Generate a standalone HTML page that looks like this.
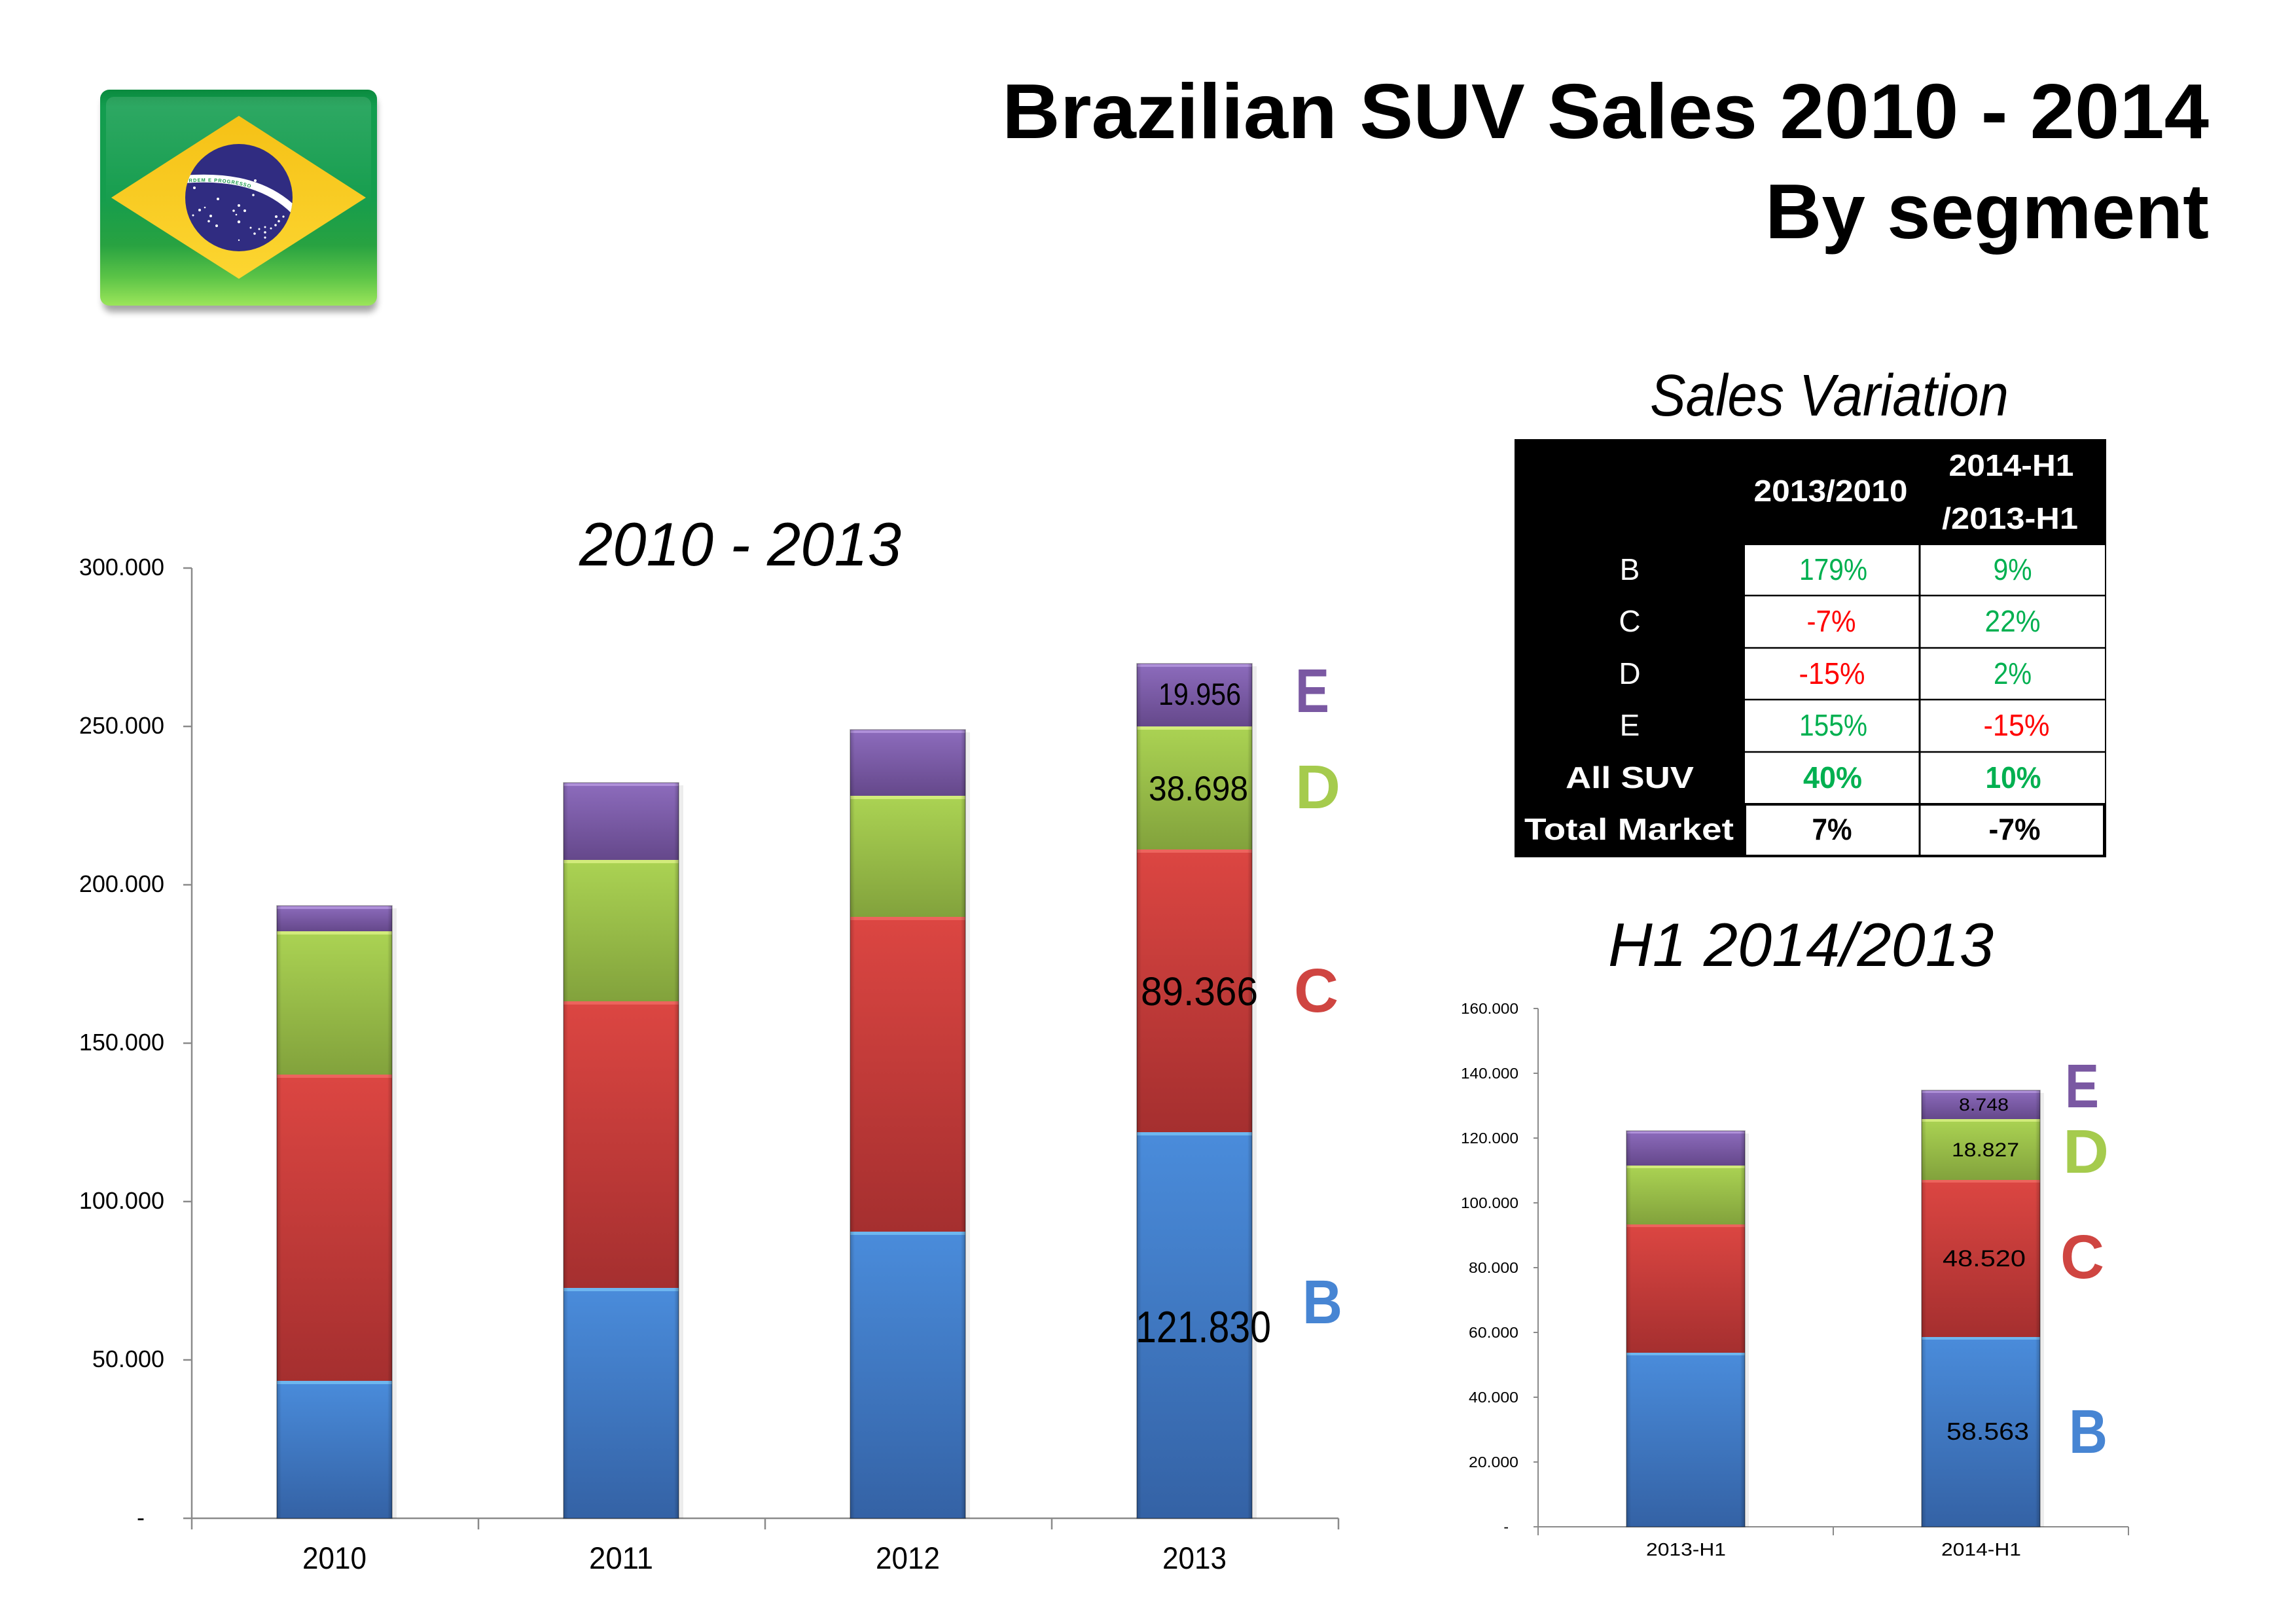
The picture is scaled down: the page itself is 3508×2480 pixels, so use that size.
<!DOCTYPE html>
<html>
<head>
<meta charset="utf-8">
<style>
html,body{margin:0;padding:0;background:#fff;}
svg{display:block;}
text{font-family:"Liberation Sans",Arial,sans-serif;}
</style>
</head>
<body>
<svg width="3508" height="2480" viewBox="0 0 3508 2480" xmlns="http://www.w3.org/2000/svg">
<defs>
  <linearGradient id="gB" x1="0" y1="0" x2="0" y2="1"><stop offset="0" stop-color="#4a8cdb"/><stop offset="1" stop-color="#3462a5"/></linearGradient>
  <linearGradient id="gC" x1="0" y1="0" x2="0" y2="1"><stop offset="0" stop-color="#dc4642"/><stop offset="1" stop-color="#a52f2f"/></linearGradient>
  <linearGradient id="gD" x1="0" y1="0" x2="0" y2="1"><stop offset="0" stop-color="#abd353"/><stop offset="1" stop-color="#82a23c"/></linearGradient>
  <linearGradient id="gE" x1="0" y1="0" x2="0" y2="1"><stop offset="0" stop-color="#8d6cbd"/><stop offset="1" stop-color="#65488b"/></linearGradient>
  <linearGradient id="side" x1="0" y1="0" x2="1" y2="0"><stop offset="0" stop-color="#000" stop-opacity="0.18"/><stop offset="0.04" stop-color="#000" stop-opacity="0"/><stop offset="0.96" stop-color="#000" stop-opacity="0"/><stop offset="1" stop-color="#000" stop-opacity="0.22"/></linearGradient>
  <linearGradient id="flagG" x1="0" y1="0" x2="0" y2="1">
    <stop offset="0" stop-color="#0a8a3e"/><stop offset="0.08" stop-color="#139d4f"/><stop offset="0.5" stop-color="#159d4d"/><stop offset="0.72" stop-color="#28a241"/><stop offset="0.87" stop-color="#5cc447"/><stop offset="1" stop-color="#9be55a"/>
  </linearGradient>
  <linearGradient id="gloss" x1="0" y1="0" x2="0" y2="1"><stop offset="0" stop-color="#fff" stop-opacity="0.12"/><stop offset="1" stop-color="#fff" stop-opacity="0"/></linearGradient>
  <linearGradient id="yel" x1="0" y1="0" x2="0" y2="1"><stop offset="0" stop-color="#f5c116"/><stop offset="1" stop-color="#fcd631"/></linearGradient>
  <filter id="blur" x="-20%" y="-20%" width="140%" height="140%"><feGaussianBlur stdDeviation="5"/></filter>
  <clipPath id="circ"><circle cx="365" cy="302" r="82"/></clipPath>
  <path id="bandPath" d="M 282 279 C 332 275, 398 277, 446 325"/>
</defs>

<!-- ============ FLAG ============ -->
<rect x="157" y="147" width="419" height="330" rx="14" fill="#000" opacity="0.35" filter="url(#blur)"/>
<rect x="153" y="137" width="423" height="330" rx="14" fill="url(#flagG)"/>
<rect x="162" y="148" width="405" height="170" rx="12" fill="url(#gloss)"/>
<polygon points="170,302 365,177 559,302 365,426" fill="url(#yel)"/>
<circle cx="365" cy="302" r="82" fill="#302c81"/>
<g clip-path="url(#circ)">
  <path d="M 280 274 C 330 270, 400 272, 450 322" stroke="#fff" stroke-width="12" fill="none"/>
  <text font-size="7.5" fill="#1a9a4a" font-weight="bold" letter-spacing="1"><textPath href="#bandPath">ORDEM E PROGRESSO</textPath></text>
</g>
<g fill="#fff">
  <circle cx="297" cy="287" r="2"/><circle cx="333" cy="304" r="2"/><circle cx="305" cy="321" r="2"/><circle cx="313" cy="317" r="1.3"/><circle cx="295" cy="329" r="1.5"/><circle cx="322" cy="330" r="2"/><circle cx="319" cy="338" r="1.8"/><circle cx="331" cy="345" r="2"/><circle cx="365" cy="314" r="2"/><circle cx="357" cy="322" r="1.8"/><circle cx="374" cy="322" r="2"/><circle cx="361" cy="328" r="1.3"/><circle cx="365" cy="339" r="2.2"/><circle cx="387" cy="298" r="1.8"/><circle cx="390" cy="276" r="2"/><circle cx="422" cy="331" r="2"/><circle cx="433" cy="331" r="1.6"/><circle cx="426" cy="338" r="1.8"/><circle cx="421" cy="344" r="1.8"/><circle cx="414" cy="349" r="1.5"/><circle cx="405" cy="347" r="1.5"/><circle cx="396" cy="350" r="1.5"/><circle cx="383" cy="348" r="1.5"/><circle cx="389" cy="357" r="1.8"/><circle cx="405" cy="355" r="1.8"/><circle cx="405" cy="363" r="1.6"/><circle cx="365" cy="367" r="1.2"/>
</g>

<!-- ============ MAIN TITLE ============ -->
<text x="1531" y="211" font-size="119" font-weight="bold" fill="#000" textLength="1844" lengthAdjust="spacingAndGlyphs">Brazilian SUV Sales 2010 - 2014</text>
<text x="2697" y="364" font-size="119" font-weight="bold" fill="#000" textLength="678" lengthAdjust="spacingAndGlyphs">By segment</text>

<!-- ============ LEFT CHART ============ -->
<text x="885" y="864" font-size="94" font-style="italic" fill="#000" textLength="492" lengthAdjust="spacingAndGlyphs">2010 - 2013</text>

<g stroke="#8a8a8a" stroke-width="2.5" fill="none">
  <line x1="293" y1="868" x2="293" y2="2337"/>
  <line x1="280" y1="2320" x2="2045" y2="2320"/>
  <line x1="280" y1="868" x2="293" y2="868"/>
  <line x1="280" y1="1110" x2="293" y2="1110"/>
  <line x1="280" y1="1352" x2="293" y2="1352"/>
  <line x1="280" y1="1594" x2="293" y2="1594"/>
  <line x1="280" y1="1836" x2="293" y2="1836"/>
  <line x1="280" y1="2078" x2="293" y2="2078"/>
  <line x1="731" y1="2320" x2="731" y2="2337"/>
  <line x1="1169" y1="2320" x2="1169" y2="2337"/>
  <line x1="1607" y1="2320" x2="1607" y2="2337"/>
  <line x1="2045" y1="2320" x2="2045" y2="2337"/>
</g>
<g font-size="36" fill="#000" text-anchor="end">
  <text x="251" y="879">300.000</text>
  <text x="251" y="1121">250.000</text>
  <text x="251" y="1363">200.000</text>
  <text x="251" y="1605">150.000</text>
  <text x="251" y="1847">100.000</text>
  <text x="251" y="2089">50.000</text>
  <text x="221" y="2331">-</text>
</g>
<g font-size="47" fill="#000" text-anchor="middle">
  <text x="511" y="2397" textLength="98" lengthAdjust="spacingAndGlyphs">2010</text>
  <text x="949" y="2397" textLength="98" lengthAdjust="spacingAndGlyphs">2011</text>
  <text x="1387" y="2397" textLength="98" lengthAdjust="spacingAndGlyphs">2012</text>
  <text x="1825" y="2397" textLength="98" lengthAdjust="spacingAndGlyphs">2013</text>
</g>

<g>
  <rect x="599" y="1388" width="7" height="932" fill="#000" opacity="0.07"/>
  <rect x="1037" y="1200" width="7" height="1120" fill="#000" opacity="0.07"/>
  <rect x="1475" y="1119" width="7" height="1201" fill="#000" opacity="0.07"/>
  <rect x="1913" y="1018" width="7" height="1302" fill="#000" opacity="0.07"/>

  <rect x="423" y="1384" width="176" height="39" fill="url(#gE)"/>
  <rect x="423" y="1423" width="176" height="219" fill="url(#gD)"/>
  <rect x="423" y="1642" width="176" height="468" fill="url(#gC)"/>
  <rect x="423" y="2110" width="176" height="210" fill="url(#gB)"/>
  <rect x="861" y="1196" width="176" height="118" fill="url(#gE)"/>
  <rect x="861" y="1314" width="176" height="216" fill="url(#gD)"/>
  <rect x="861" y="1530" width="176" height="438" fill="url(#gC)"/>
  <rect x="861" y="1968" width="176" height="352" fill="url(#gB)"/>
  <rect x="1299" y="1115" width="176" height="101" fill="url(#gE)"/>
  <rect x="1299" y="1216" width="176" height="185" fill="url(#gD)"/>
  <rect x="1299" y="1401" width="176" height="481" fill="url(#gC)"/>
  <rect x="1299" y="1882" width="176" height="438" fill="url(#gB)"/>
  <rect x="1737" y="1014" width="176" height="96" fill="url(#gE)"/>
  <rect x="1737" y="1110" width="176" height="188" fill="url(#gD)"/>
  <rect x="1737" y="1298" width="176" height="432" fill="url(#gC)"/>
  <rect x="1737" y="1730" width="176" height="590" fill="url(#gB)"/>

  <g opacity="0.85">
    <rect x="423" y="1384" width="176" height="5" fill="#b597de"/>
    <rect x="423" y="1423" width="176" height="5" fill="#d9f083"/>
    <rect x="423" y="1642" width="176" height="5" fill="#f06a62"/>
    <rect x="423" y="2110" width="176" height="5" fill="#74bdf2"/>
    <rect x="861" y="1196" width="176" height="5" fill="#b597de"/>
    <rect x="861" y="1314" width="176" height="5" fill="#d9f083"/>
    <rect x="861" y="1530" width="176" height="5" fill="#f06a62"/>
    <rect x="861" y="1968" width="176" height="5" fill="#74bdf2"/>
    <rect x="1299" y="1115" width="176" height="5" fill="#b597de"/>
    <rect x="1299" y="1216" width="176" height="5" fill="#d9f083"/>
    <rect x="1299" y="1401" width="176" height="5" fill="#f06a62"/>
    <rect x="1299" y="1882" width="176" height="5" fill="#74bdf2"/>
    <rect x="1737" y="1014" width="176" height="5" fill="#b597de"/>
    <rect x="1737" y="1110" width="176" height="5" fill="#d9f083"/>
    <rect x="1737" y="1298" width="176" height="5" fill="#f06a62"/>
    <rect x="1737" y="1730" width="176" height="5" fill="#74bdf2"/>
  </g>
  <rect x="423" y="1384" width="176" height="936" fill="url(#side)"/>
  <rect x="861" y="1196" width="176" height="1124" fill="url(#side)"/>
  <rect x="1299" y="1115" width="176" height="1205" fill="url(#side)"/>
  <rect x="1737" y="1014" width="176" height="1306" fill="url(#side)"/>
  <g fill="none" stroke="#000" stroke-opacity="0.35" stroke-width="1.5">
    <rect x="423" y="1384" width="176" height="936"/>
    <rect x="861" y="1196" width="176" height="1124"/>
    <rect x="1299" y="1115" width="176" height="1205"/>
    <rect x="1737" y="1014" width="176" height="1306"/>
  </g>
</g>

<g fill="#000">
  <text x="1770" y="1077" font-size="47" textLength="126" lengthAdjust="spacingAndGlyphs">19.956</text>
  <text x="1755" y="1223" font-size="53" textLength="152" lengthAdjust="spacingAndGlyphs">38.698</text>
  <text x="1743" y="1536" font-size="61" textLength="179" lengthAdjust="spacingAndGlyphs">89.366</text>
  <text x="1735" y="2051" font-size="68" textLength="207" lengthAdjust="spacingAndGlyphs">121.830</text>
</g>
<g font-size="95" font-weight="bold">
  <text x="1979" y="1088" fill="#7a58a2" textLength="52" lengthAdjust="spacingAndGlyphs">E</text>
  <text x="1979" y="1235" fill="#a5cb4d" textLength="69" lengthAdjust="spacingAndGlyphs">D</text>
  <text x="1977" y="1546" fill="#cf4541" textLength="68" lengthAdjust="spacingAndGlyphs">C</text>
  <text x="1990" y="2022" fill="#4785d3" textLength="61" lengthAdjust="spacingAndGlyphs">B</text>
</g>

<!-- ============ SALES VARIATION TABLE ============ -->
<text x="2521" y="635" font-size="90" font-style="italic" fill="#000" textLength="548" lengthAdjust="spacingAndGlyphs">Sales Variation</text>
<rect x="2314" y="671" width="904" height="639" fill="#000"/>
<rect x="2666" y="833" width="550" height="475" fill="#fff"/>
<g stroke="#000" fill="none">
  <line x1="2933" y1="831" x2="2933" y2="1310" stroke-width="3"/>
  <line x1="2664" y1="910" x2="3218" y2="910" stroke-width="2.5"/>
  <line x1="2664" y1="990" x2="3218" y2="990" stroke-width="2.5"/>
  <line x1="2664" y1="1069" x2="3218" y2="1069" stroke-width="2.5"/>
  <line x1="2664" y1="1149" x2="3218" y2="1149" stroke-width="2.5"/>
  <rect x="2666" y="1229" width="549" height="79" stroke-width="4"/>
</g>
<g font-size="46" font-weight="bold" fill="#fff" text-anchor="middle">
  <text x="2797" y="766" textLength="235" lengthAdjust="spacingAndGlyphs">2013/2010</text>
  <text x="3073" y="727" textLength="191" lengthAdjust="spacingAndGlyphs">2014-H1</text>
  <text x="3071" y="808" textLength="208" lengthAdjust="spacingAndGlyphs">/2013-H1</text>
</g>
<g font-size="46" fill="#fff" text-anchor="middle">
  <text x="2490" y="886">B</text>
  <text x="2490" y="965">C</text>
  <text x="2490" y="1045">D</text>
  <text x="2490" y="1124">E</text>
  <text x="2490" y="1204" font-weight="bold" textLength="196" lengthAdjust="spacingAndGlyphs">All SUV</text>
  <text x="2489" y="1283" font-weight="bold" textLength="320" lengthAdjust="spacingAndGlyphs">Total Market</text>
</g>
<g font-size="46" text-anchor="middle">
  <text x="2801" y="886" fill="#00b050" textLength="104" lengthAdjust="spacingAndGlyphs">179%</text>
  <text x="3075" y="886" fill="#00b050" textLength="59" lengthAdjust="spacingAndGlyphs">9%</text>
  <text x="2798" y="965" fill="#ff0000" textLength="75" lengthAdjust="spacingAndGlyphs">-7%</text>
  <text x="3075" y="965" fill="#00b050" textLength="85" lengthAdjust="spacingAndGlyphs">22%</text>
  <text x="2799" y="1045" fill="#ff0000" textLength="101" lengthAdjust="spacingAndGlyphs">-15%</text>
  <text x="3075" y="1045" fill="#00b050" textLength="58" lengthAdjust="spacingAndGlyphs">2%</text>
  <text x="2801" y="1124" fill="#00b050" textLength="104" lengthAdjust="spacingAndGlyphs">155%</text>
  <text x="3081" y="1124" fill="#ff0000" textLength="101" lengthAdjust="spacingAndGlyphs">-15%</text>
  <text x="2800" y="1204" fill="#00b050" font-weight="bold" textLength="90" lengthAdjust="spacingAndGlyphs">40%</text>
  <text x="3076" y="1204" fill="#00b050" font-weight="bold" textLength="85" lengthAdjust="spacingAndGlyphs">10%</text>
  <text x="2799" y="1283" fill="#000" font-weight="bold" textLength="61" lengthAdjust="spacingAndGlyphs">7%</text>
  <text x="3078" y="1283" fill="#000" font-weight="bold" textLength="79" lengthAdjust="spacingAndGlyphs">-7%</text>
</g>

<!-- ============ RIGHT CHART ============ -->
<text x="2457" y="1476" font-size="94" font-style="italic" fill="#000" textLength="589" lengthAdjust="spacingAndGlyphs">H1 2014/2013</text>
<g stroke="#8a8a8a" stroke-width="2" fill="none">
  <line x1="2350" y1="1541" x2="2350" y2="2346"/>
  <line x1="2343" y1="2333" x2="3252" y2="2333"/>
  <line x1="2343" y1="1541" x2="2350" y2="1541"/>
  <line x1="2343" y1="1640" x2="2350" y2="1640"/>
  <line x1="2343" y1="1739" x2="2350" y2="1739"/>
  <line x1="2343" y1="1838" x2="2350" y2="1838"/>
  <line x1="2343" y1="1937" x2="2350" y2="1937"/>
  <line x1="2343" y1="2036" x2="2350" y2="2036"/>
  <line x1="2343" y1="2135" x2="2350" y2="2135"/>
  <line x1="2343" y1="2234" x2="2350" y2="2234"/>
  <line x1="2801" y1="2333" x2="2801" y2="2346"/>
  <line x1="3252" y1="2333" x2="3252" y2="2346"/>
</g>
<g font-size="23" fill="#000" text-anchor="end">
  <text x="2320" y="1549" textLength="88" lengthAdjust="spacingAndGlyphs">160.000</text>
  <text x="2320" y="1648" textLength="88" lengthAdjust="spacingAndGlyphs">140.000</text>
  <text x="2320" y="1747" textLength="88" lengthAdjust="spacingAndGlyphs">120.000</text>
  <text x="2320" y="1846" textLength="88" lengthAdjust="spacingAndGlyphs">100.000</text>
  <text x="2320" y="1945" textLength="76" lengthAdjust="spacingAndGlyphs">80.000</text>
  <text x="2320" y="2044" textLength="76" lengthAdjust="spacingAndGlyphs">60.000</text>
  <text x="2320" y="2143" textLength="76" lengthAdjust="spacingAndGlyphs">40.000</text>
  <text x="2320" y="2242" textLength="76" lengthAdjust="spacingAndGlyphs">20.000</text>
  <text x="2305" y="2341">-</text>
</g>
<g font-size="28" fill="#000" text-anchor="middle">
  <text x="2576" y="2377" textLength="122" lengthAdjust="spacingAndGlyphs">2013-H1</text>
  <text x="3027" y="2377" textLength="122" lengthAdjust="spacingAndGlyphs">2014-H1</text>
</g>

<g>
  <rect x="2666" y="1732" width="6" height="601" fill="#000" opacity="0.07"/>
  <rect x="3117" y="1670" width="6" height="663" fill="#000" opacity="0.07"/>
  <rect x="2485" y="1728" width="181" height="53" fill="url(#gE)"/>
  <rect x="2485" y="1781" width="181" height="90" fill="url(#gD)"/>
  <rect x="2485" y="1871" width="181" height="196" fill="url(#gC)"/>
  <rect x="2485" y="2067" width="181" height="266" fill="url(#gB)"/>
  <rect x="2936" y="1666" width="181" height="44" fill="url(#gE)"/>
  <rect x="2936" y="1710" width="181" height="93" fill="url(#gD)"/>
  <rect x="2936" y="1803" width="181" height="240" fill="url(#gC)"/>
  <rect x="2936" y="2043" width="181" height="290" fill="url(#gB)"/>
  <g opacity="0.85">
    <rect x="2485" y="1728" width="181" height="4" fill="#b597de"/>
    <rect x="2485" y="1781" width="181" height="4" fill="#d9f083"/>
    <rect x="2485" y="1871" width="181" height="4" fill="#f06a62"/>
    <rect x="2485" y="2067" width="181" height="4" fill="#74bdf2"/>
    <rect x="2936" y="1666" width="181" height="4" fill="#b597de"/>
    <rect x="2936" y="1710" width="181" height="4" fill="#d9f083"/>
    <rect x="2936" y="1803" width="181" height="4" fill="#f06a62"/>
    <rect x="2936" y="2043" width="181" height="4" fill="#74bdf2"/>
  </g>
  <rect x="2485" y="1728" width="181" height="605" fill="url(#side)"/>
  <rect x="2936" y="1666" width="181" height="667" fill="url(#side)"/>
  <g fill="none" stroke="#000" stroke-opacity="0.35" stroke-width="1.5">
    <rect x="2485" y="1728" width="181" height="605"/>
    <rect x="2936" y="1666" width="181" height="667"/>
  </g>
</g>
<g fill="#000">
  <text x="2993" y="1697" font-size="27" textLength="76" lengthAdjust="spacingAndGlyphs">8.748</text>
  <text x="2982" y="1767" font-size="30" textLength="103" lengthAdjust="spacingAndGlyphs">18.827</text>
  <text x="2968" y="1935" font-size="35" textLength="127" lengthAdjust="spacingAndGlyphs">48.520</text>
  <text x="2974" y="2200" font-size="37" textLength="126" lengthAdjust="spacingAndGlyphs">58.563</text>
</g>
<g font-size="95" font-weight="bold">
  <text x="3155" y="1692" fill="#7a58a2" textLength="52" lengthAdjust="spacingAndGlyphs">E</text>
  <text x="3152" y="1792" fill="#a5cb4d" textLength="70" lengthAdjust="spacingAndGlyphs">D</text>
  <text x="3148" y="1953" fill="#cf4541" textLength="67" lengthAdjust="spacingAndGlyphs">C</text>
  <text x="3161" y="2220" fill="#4785d3" textLength="59" lengthAdjust="spacingAndGlyphs">B</text>
</g>
</svg>
</body>
</html>
